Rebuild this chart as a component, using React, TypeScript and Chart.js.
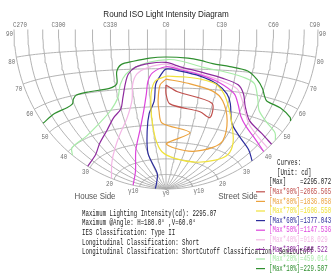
import React, { useEffect, useRef } from 'react';
import { Chart, registerables } from 'chart.js';
Chart.register(...registerables);

const W = 331, H = 275;
const CX = 166, CY = 29.5, RX = 152, RY = 159.5;

const TITLE = 'Round ISO Light Intensity Diagram';
const C_LABEL_ANGLES = [-90, -60, -30, 0, 30, 60, 90];
const C_LABELS = ['C270', 'C300', 'C330', 'C0', 'C30', 'C60', 'C90'];
const V_LABEL_ANGLES = [90, 80, 70, 60, 50, 40, 30, 20, 10];
const V_LABELS = ['90', '80', '70', '60', '50', '40', '30', '20', 'γ10'];
const INFO_LINES = [
  'Maximum Lighting Intensity(cd): 2295.07',
  'Maximum @Angle: H=180.0° ,V=60.0°',
  'IES Classification: Type II',
  'Longitudinal Classification: Short',
  'Longitudinal Classification: ShortCutoff Classification: Semicutoff',
];
const LEGEND_HEAD = ['Curves:', '[Unit: cd]', '[Max]    =2295.072'];
const LEGEND_NAMES = [
  '[Max*90%]=2065.565', '[Max*80%]=1836.058', '[Max*70%]=1606.550',
  '[Max*60%]=1377.043', '[Max*50%]=1147.536', '[Max*40%]=918.029',
  '[Max*30%]=688.522', '[Max*20%]=459.014', '[Max*10%]=229.507',
];
const CURVE_COLORS = ['#c0504d', '#eba23e', '#f0e23c', '#2c2c9c', '#dc44dc', '#f3b6e6', '#8e2a9e', '#a8eca8', '#2f8f2f'];

// contour data: C angle (deg, C270 = -90) and V angle (deg)
const C90 = [0, 7, 29.5, 31, 23, 2.5, 0, 0];
const V90 = [61.5, 58, 53, 45.5, 48, 51.5, 57, 61.5];
const C80 = [0, 12, 28, 36, 44, 49.5, 45, 28.5, 9, 0.5, 19.5, -3, -4.7, -5, -3.5, 0];
const V80 = [64.6, 62.7, 59.3, 54.8, 45.4, 35.3, 30.5, 26, 26.6, 29.3, 36.2, 41.1, 47.8, 53.2, 61.5, 64.6];
const C70 = [0.5, -6.3, -9, -10, -10, -9, -4.4, 11, 38.5, 58, 64, 59, 49.5, 42, 35.7, 29, 19.7, 11, 0.5];
const V70 = [66.2, 63.6, 57.4, 48, 40, 31.3, 24.4, 20.5, 20.3, 25, 30, 36, 43.5, 51.3, 58.3, 63, 65, 65.8, 66.2];
const C60 = [-90, -40, -19, -20, -15, -11.5, -7.5, -6, -3.5, 0, 8, 19.5, 30, 37.5, 41.5, 48.5, 61, 77, 90];
const V60 = [4, 5.7, 11, 24, 37, 46.5, 53, 62, 66, 69.8, 68.8, 66.5, 63, 58.5, 54, 44.5, 39.5, 36.5, 34.5];
const C50 = [-90, -52, -31, -20, -15, -12, -10.5, -7.5, 0, 8, 20, 32, 42, 47, 52, 60, 72, 90];
const V50 = [12.5, 16, 27, 38.5, 48, 57, 63.5, 68, 71, 69.5, 67, 63.5, 59, 54, 49, 45, 42, 40];
const C40 = [-90, -66, -51, -37, -27.5, -21.5, -19.5, -16.5, -10.5, 0, 8, 20, 33, 43, 48, 53, 61, 75, 90];
const V40 = [21, 25, 30, 37.5, 45, 54, 62.5, 67.5, 70.5, 72.3, 70, 67.5, 64.5, 61.5, 57, 52, 46.5, 43, 42];
const C30 = [-90, -71, -59, -46, -37, -30, -27, -24, -21.5, -17, -9, 0, 8, 20, 33, 43, 48, 52, 60, 75, 90];
const V30 = [31, 32, 35.5, 40.5, 46, 50, 55.5, 62.5, 67.5, 71, 72.8, 73.2, 71, 68.5, 66, 63.5, 59.5, 54, 48, 45, 44];
const C20 = [-90, -84, -64, -48, -37, -30, -27, -23, -17, -9, 1, 8, 21, 35, 47, 53, 58, 63, 73, 85, 90];
const V20 = [38, 40, 41, 45, 50, 56, 62.5, 67.5, 71, 73.5, 74.7, 74, 71, 69, 67, 65, 59, 53.5, 50, 48, 46];
const C10 = [-90, -77, -66, -61, -59, -56, -47, -34, -29, -28, -25, -18, -9, 0, 12, 19, 26, 36, 47, 54, 59, 62, 65, 77, 88, 90];
const V10 = [54, 55, 55.5, 56.5, 58.5, 60, 60.5, 61, 63, 69, 72.5, 74, 75.5, 76, 75.5, 74.5, 73, 72, 70.5, 67, 63.5, 60.5, 58.5, 57.5, 56, 55];

const CURVES_C = [C90, C80, C70, C60, C50, C40, C30, C20, C10];
const CURVES_V = [V90, V80, V70, V60, V50, V40, V30, V20, V10];

const GRID_V = [10, 20, 30, 40, 50, 60, 70, 80];
const GRID_C = [-90, -80, -70, -60, -50, -40, -30, -20, -10, 0, 10, 20, 30, 40, 50, 60, 70, 80, 90];

function proj(c: number, v: number) {
  const cr = (c * Math.PI) / 180, vr = (v * Math.PI) / 180;
  const k = 1 / Math.sqrt(1 + Math.sin(vr) * Math.cos(cr));
  return { x: Math.sin(vr) * Math.sin(cr) * k, y: Math.cos(vr) * k };
}

function range(a: number, b: number, step: number) {
  const out: number[] = [];
  for (let t = a; t <= b + 1e-9; t += step) out.push(t);
  return out;
}

export default function App() {
  const ref = useRef<HTMLCanvasElement | null>(null);
  useEffect(() => {
    const canvas = ref.current;
    if (!canvas) return;
    document.body.style.margin = '0';
    const datasets: any[] = [];
    GRID_V.forEach((v) => {
      datasets.push({
        data: range(-90, 90, 2).map((c) => proj(c, v)),
        borderColor: '#ababab', borderWidth: 0.9, showLine: true, pointRadius: 0, order: 10,
      });
    });
    GRID_C.forEach((c) => {
      datasets.push({
        data: range(0, 90, 2).map((v) => proj(c, v)),
        borderColor: '#ababab', borderWidth: 0.9, showLine: true, pointRadius: 0, order: 10,
      });
    });
    CURVES_C.forEach((cs, i) => {
      datasets.push({
        data: cs.map((c, j) => proj(c, CURVES_V[i][j])),
        borderColor: CURVE_COLORS[i], borderWidth: 1.2, showLine: true, pointRadius: 0,
        tension: 0.3, order: 1 + i * 0.01,
      });
    });

    const textPlugin = {
      id: 'texts',
      afterDatasetsDraw(chart: any) {
        const ctx = chart.ctx as CanvasRenderingContext2D;
        const sx = chart.scales.x, sy = chart.scales.y;
        const px = (c: number, v: number) => {
          const p = proj(c, v);
          return { x: sx.getPixelForValue(p.x), y: sy.getPixelForValue(p.y) };
        };
        const txt = (s: string, x: number, y: number, font: string, color: string, align: CanvasTextAlign, cw?: number) => {
          ctx.font = font;
          ctx.fillStyle = color;
          ctx.textAlign = align;
          ctx.textBaseline = 'middle';
          if (cw) ctx.fillText(s, x, y, s.length * cw);
          else ctx.fillText(s, x, y);
        };
        ctx.save();
        const small = "7px 'Liberation Mono'";
        const lab = '#707070';
        txt(TITLE, 166, 15, "8.5px 'Liberation Sans'", '#222', 'center', 3.8);
        C_LABEL_ANGLES.forEach((c, i) => {
          const p = px(c, 90);
          const align: CanvasTextAlign = i === 0 ? 'left' : i === C_LABELS.length - 1 ? 'right' : 'center';
          const x = i === 0 ? p.x - 1 : i === C_LABELS.length - 1 ? p.x + 2 : p.x;
          txt(C_LABELS[i], x, 25, small, lab, align, 3.5);
        });
        V_LABEL_ANGLES.forEach((v, i) => {
          const l = px(-90, v);
          const r = px(90, v);
          txt(V_LABELS[i], l.x - 1, l.y + 5, small, lab, 'right', 3.5);
          txt(V_LABELS[i], r.x + 1, r.y + 5, small, lab, 'left', 3.5);
        });
        const n = px(0, 0);
        txt('γ0', n.x, n.y + 4, small, lab, 'center', 3.5);
        txt('House Side', 95, 196, "9.5px 'Liberation Sans'", '#555', 'center', 4.1);
        txt('Street Side', 238, 196, "9.5px 'Liberation Sans'", '#555', 'center', 3.6);
        const mono = "8.5px 'Liberation Mono'";
        INFO_LINES.forEach((s, i) => txt(s, 82, 213.3 + i * 9.7, mono, '#1a1a1a', 'left', 3.45));
        LEGEND_HEAD.forEach((s, i) => txt(s, i < 2 ? 277 : 269, 163 + i * 9.6, mono, '#1a1a1a', 'left', 3.45));
        LEGEND_NAMES.forEach((s, i) => {
          const y = 191.8 + i * 9.6;
          ctx.strokeStyle = CURVE_COLORS[i];
          ctx.lineWidth = 1.2;
          ctx.beginPath();
          ctx.moveTo(256, y);
          ctx.lineTo(265, y);
          ctx.stroke();
          txt(s, 269, y, mono, CURVE_COLORS[i], 'left', 3.45);
        });
        ctx.restore();
      },
    };

    const chart = new Chart(canvas, {
      type: 'scatter',
      data: { datasets },
      options: {
        animation: false,
        responsive: false,
        events: [],
        layout: { padding: 0 },
        plugins: { legend: { display: false }, tooltip: { enabled: false }, title: { display: false } },
        scales: {
          x: { type: 'linear', min: -CX / RX, max: (W - CX) / RX, display: false },
          y: { type: 'linear', min: -CY / RY, max: (H - CY) / RY, reverse: true, display: false },
        },
      },
      plugins: [textPlugin],
    });
    return () => chart.destroy();
  }, []);
  return (
    <div style={{ position: 'absolute', left: 0, top: 0, width: W, height: H, background: '#fff' }}>
      <canvas ref={ref} width={W} height={H} style={{ display: 'block' }} />
    </div>
  );
}
